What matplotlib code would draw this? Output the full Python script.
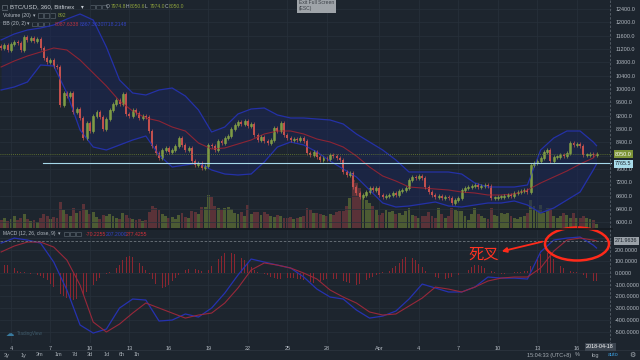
import numpy as np
import pandas as pd
import matplotlib
matplotlib.use("Agg")
import matplotlib.pyplot as plt
import matplotlib.dates as mdates
from matplotlib.patches import Ellipse, Rectangle, FancyArrowPatch

plt.rcParams['font.family'] = ['Liberation Sans', 'DejaVu Sans']
NARROW = ['Liberation Sans Narrow', 'Liberation Sans', 'DejaVu Sans']

# BTC/USD Bitfinex, 6h candles from 2018-03-03 06:00
closes = [
    11230, 11320, 11170, 11350, 11410, 11380, 11170, 11560, 11470, 11530,
    11440, 11500, 11230, 10930, 10810, 10870, 10690, 10660, 9520, 9880,
    9790, 9880, 9310, 9400, 9130, 8530, 8980, 8740, 9190, 9310,
    9160, 8800, 9100, 9370, 9550, 9670, 9550, 9850, 9250, 9190,
    9370, 9280, 9130, 9190, 9160, 8740, 8290, 8080, 7930, 8170,
    8230, 8110, 8170, 8290, 8530, 8320, 8170, 8230, 7840, 7720,
    7780, 7630, 7690, 8320, 8290, 8170, 8440, 8380, 8530, 8590,
    8800, 8920, 9010, 8950, 9040, 8890, 8950, 8620, 8470, 8560,
    8440, 8380, 8470, 8830, 8740, 8980, 8620, 8530, 8470, 8500,
    8470, 8530, 8440, 8080, 8020, 8110, 7960, 7870, 7930, 7900,
    8020, 7990, 7930, 7870, 7510, 7420, 7480, 7060, 6880, 6760,
    6820, 6910, 7030, 6970, 7030, 6820, 6760, 6790, 6820, 6880,
    6820, 6940, 6970, 7030, 7270, 7360, 7330, 7390, 7330, 7060,
    6910, 6820, 6760, 6790, 6730, 6760, 6730, 6580, 6670, 6730,
    6970, 7030, 7060, 7090, 7120, 7060, 7090, 7120, 7090, 6730,
    6730, 6760, 6760, 6790, 6820, 6790, 6880, 6910, 6940, 6970,
    6910, 7720, 7780, 7840, 7930, 8110, 8170, 7840, 7960, 7960,
    8020, 7990, 8080, 8380, 8320, 8350, 8290, 8020, 8020, 8050,
    8020, 8050,
]
first_open = 11300
wick = 60

volumes = [
    1600, 2000, 1400, 1800, 2400, 1600, 2000, 2800, 1800, 1400, 1600, 1200,
    2000, 2800, 2400, 1800, 2200, 2000, 5200,
    3600, 2800, 2400, 4000, 3000, 3400, 4800,
    3600, 2800, 3200, 2200, 1800, 2600, 2400,
    2800, 2400, 2000, 1800, 3000, 2600, 2000, 1800, 1600, 1800, 1400, 1600,
    3200, 4400, 4000, 3600,
    2800, 2400, 2000, 2200, 1800, 2600, 3000, 2200, 2000,
    3400, 3200, 2800, 4200, 4200, 6600,
    6200, 4400, 4000, 3600, 4000, 4200,
    3800, 3000, 2800, 3200, 2400, 4600, 2800, 3200, 3200, 2600,
    3200, 2800, 2400, 2200, 2600, 2400, 2000, 2000, 2200, 1800, 2000, 2200, 2400,
    4000, 3600, 3000, 3000, 2800, 2600, 2400, 2800, 2600, 3200, 3400,
    3400, 4400, 6000, 9600, 9000, 8000, 6000,
    5600, 5000, 4400, 3600,
    2600, 3000, 3600, 3200, 3400, 2800, 3000, 2600, 3400, 4000,
    2600, 2400, 2000, 2400, 2400, 3200, 2400, 2000, 4000, 2800, 2000, 2400, 4000, 3600, 3400,
    3400, 2400, 1600, 2800, 4000, 2800, 2400, 2000, 1800,
    4000, 2600, 2400, 3000, 2800, 3000, 2400, 2000, 1800, 2200, 2400, 3000,
    5600, 4400, 3600, 4600, 3000, 4000,
    4000, 2400, 2000, 2400, 3000, 2600, 2000, 3000, 2000, 2000, 2400, 2000, 1800, 1600, 892,
]

macd_hist = [
    55, 65, 70, 60, 45, 20, 10, 5, 0, -5, -10, -15, -25, -40,
    -60, -90, -120, -150, -180, -200, -215, -225, -230, -225, -210, -190, -160, -130, -100, -70, -40,
    -20, -5, 5, 15,
    40, 70, 110, 140, 150, 140, 120, 90, 60, 30,
    -10, -50, -90, -120, -130, -120, -100, -70, -40, -15,
    10, 25, 35, 40, 35, 25, 15, 10,
    30, 60, 90, 120, 150, 170, 180, 175, 165, 150, 130, 110, 80, 50,
    25, 10, 0, -10, -20,
    -30, -40, -50, -55, -50, -45, -40, -45, -50, -55, -60,
    -65, -75, -85, -80, -70, -60, -55, -50,
    -50, -55, -60, -65, -75, -85, -95, -100, -90, -80, -60, -45, -30,
    -15, -5, 5, 10, 20, 40,
    60, 90, 120, 140, 140, 130, 110, 80, 50, 20,
    0, -15, -30, -45,
    -55, -50, -45, -35, -25, -15, 0, 10,
    30, 50, 65, 70, 60, 45, 30, 15,
    5, 0, -5, -5, 0, 5, 5, 10, 10, 15, 20,
    60, 100, 140, 165, 175, 170, 150, 120, 90, 60,
    40, 25, 15, 10, 5, 0,
    -20, -40, -55, -65, -70,
]

# indicator lines, read once a day (every 4th candle, plus the last one)
bb_upper = [
    11470, 11650, 11770, 11830, 11920, 12100, 12250, 12070, 11260, 10270,
    9880, 9820, 9970, 10030, 9790, 9370, 8710, 8860, 9250, 9400,
    9430, 9220, 9130, 9130, 9100, 9070, 8950, 8650, 8410, 8170,
    7870, 7510, 7510, 7510, 7510, 7450, 7180, 7060, 7060, 7060,
    7120, 8170, 8530, 8740, 8740, 8410, 8300,
]
bb_mid = [
    10660, 10840, 10990, 11110, 11230, 11170, 10870, 10480, 10090, 9640,
    9340, 9130, 9040, 8860, 8740, 8380, 8200, 8230, 8350, 8470,
    8650, 8740, 8740, 8650, 8500, 8410, 8260, 7990, 7660, 7390,
    7240, 7060, 7030, 7000, 6970, 6910, 6880, 6820, 6820, 6850,
    6970, 7180, 7360, 7540, 7750, 7930, 8050,
]
bb_lower = [
    9970, 10060, 10210, 10720, 10690, 9880, 8770, 8260, 8170, 8320,
    8470, 8590, 8020, 7660, 7720, 7780, 7570, 7450, 7420, 7450,
    7810, 8260, 8410, 8320, 8110, 7840, 7600, 7360, 6970, 6580,
    6460, 6490, 6550, 6610, 6490, 6460, 6520, 6580, 6580, 6640,
    6520, 6280, 6430, 6670, 6910, 7570, 7750,
]
macd_line = [
    256, 299, 282, 256, 94, -145, -444, -513, -479, -299,
    -222, -231, -410, -402, -350, -376, -299, -171, -17, 120,
    94, 68, 43, -34, -137, -205, -222, -316, -385, -368,
    -325, -222, -94, -128, -162, -162, -120, -34, -43, -43,
    -51, 180, 282, 299, 308, 239, 214,
]
macd_signal = [
    180, 231, 265, 265, 222, 111, -103, -419, -504, -436,
    -342, -256, -299, -342, -385, -359, -342, -256, -128, 26,
    86, 68, 43, 0, -51, -145, -205, -256, -333, -359,
    -350, -282, -214, -120, -137, -162, -120, -68, -43, -34,
    -34, 43, 188, 282, 299, 282, 274,
]

price_ticks = list(range(6000, 12401, 400))
macd_ticks = list(range(-500, 301, 100))
date_ticks = ["2018-03-04", "2018-03-07", "2018-03-10", "2018-03-13", "2018-03-16",
              "2018-03-19", "2018-03-22", "2018-03-25", "2018-03-28", "2018-04-01",
              "2018-04-04", "2018-04-07", "2018-04-10", "2018-04-13", "2018-04-16"]
date_labels = ["4", "7", "10", "13", "16", "19", "22", "25", "28", "Apr",
               "4", "7", "10", "13", "16"]
hline_price = 7765.5
last_price = 8050.0
last_signal = 271.9636

BG = "#1d252e"
GRID = "#28313b"
TXT = "#b3bac2"
UP = "#63803a"
UP_EDGE = "#8aa74a"
DOWN = "#c2504e"

times = pd.date_range("2018-03-03 06:00", periods=len(closes), freq="6h")
t = mdates.date2num(times)
opens = [first_open] + closes[:-1]
line_idx = list(range(0, len(closes) - 1, 4)) + [len(closes) - 1]
tl = t[line_idx]


def fx(x):
    return x / 640


def fy(y):
    return 1 - y / 360


fig = plt.figure(figsize=(6.4, 3.6), dpi=100)
fig.patch.set_facecolor(BG)

ax = fig.add_axes([0, fy(228), 612 / 640, 228 / 360])
axv = ax.twinx()
axm = fig.add_axes([0, fy(343), 612 / 640, 113 / 360])
ax.set_zorder(axv.get_zorder() + 1)
ax.patch.set_visible(False)
axv.patch.set_facecolor(BG)
axm.set_facecolor(BG)

x_left = t[0] - 0.334 * 0.25
x_right = t[0] + 185.7 * 0.25
tick_pos = mdates.date2num(pd.to_datetime(date_ticks))

# volume
up = np.array(closes) >= np.array(opens)
axv.bar(t, volumes, width=0.22, color=np.where(up, "#4c5b33", "#5a3238"), linewidth=0)
axv.set_ylim(0, 45600)
axv.set_yticks([])

# bollinger bands
ax.fill_between(tl, bb_lower, bb_upper, color="#1b2656", alpha=0.55, linewidth=0)
ax.plot(tl, bb_upper, color="#2431a8", lw=0.9)
ax.plot(tl, bb_lower, color="#2431a8", lw=0.9)
ax.plot(tl, bb_mid, color="#8c2434", lw=0.8)

# candles
for ti, o, c in zip(t, opens, closes):
    hi = max(o, c) + wick
    lo = min(o, c) - wick
    if c >= o:
        ax.vlines(ti, lo, hi, color=UP_EDGE, lw=0.5)
        ax.bar(ti, max(c - o, 20), bottom=o, width=0.15, color=UP,
               edgecolor=UP_EDGE, linewidth=0.4)
    else:
        ax.vlines(ti, lo, hi, color=DOWN, lw=0.5)
        ax.bar(ti, max(o - c, 20), bottom=c, width=0.15, color=DOWN, linewidth=0)

ax.axhline(last_price, color="#6d8230", lw=0.6, ls=(0, (1, 1.5)))
ax.plot([t[12] + 0.2, x_right], [hline_price, hline_price], color="#a6d9ea", lw=0.8)

ax.set_xlim(x_left, x_right)
axm.set_xlim(x_left, x_right)
ax.set_ylim(5830, 12670)
ax.yaxis.tick_right()
ax.set_yticks(price_ticks)
# the 8000 label sits under the last-price box
ax.set_yticklabels(["" if abs(v - last_price) < 200 else f"{v:.1f}" for v in price_ticks],
                   family=NARROW)
ax.set_xticks(tick_pos)
ax.set_xticklabels([])
ax.tick_params(length=0, labelsize=3.9, colors=TXT, pad=2.4)
ax.grid(True, color=GRID, lw=0.5)
ax.set_axisbelow(True)

# MACD
axm.bar(t, macd_hist, width=0.06, color="#8a2630", linewidth=0)
axm.plot(tl, macd_line, color="#2632b0", lw=0.9)
axm.plot(tl, macd_signal, color="#98283a", lw=0.8)
axm.axhline(last_signal, color="#6f777f", lw=0.6, ls=(0, (3, 2)))
axm.set_ylim(-598, 368)
axm.yaxis.tick_right()
axm.set_yticks(macd_ticks)
axm.set_yticklabels(["" if abs(v - last_signal) < 50 else f"{v:.4f}" for v in macd_ticks],
                    family=NARROW)
axm.set_xticks(tick_pos)
axm.set_xticklabels(date_labels)
axm.tick_params(length=0, labelsize=3.9, colors=TXT)
axm.tick_params(axis="x", pad=2.0, labelsize=4.0)
axm.tick_params(axis="y", pad=2.0)
axm.grid(True, color=GRID, lw=0.5)
axm.set_axisbelow(True)

for a in (ax, axv, axm):
    for s in a.spines.values():
        s.set_visible(False)

# panel separator, crosshair, toolbar line
fig.add_artist(plt.Line2D([0, fx(612)], [fy(229), fy(229)], color="#141a20", lw=1.2))
fig.add_artist(plt.Line2D([fx(610), fx(610)], [fy(0), fy(343)], color="#59626c",
                          lw=0.6, ls=(0, (3, 2))))
fig.add_artist(plt.Line2D([0, 1], [fy(350), fy(350)], color="#2c343e", lw=0.6))


# header texts
def txt(x, y, s, color=TXT, size=3.8, family=None, **kw):
    fig.text(fx(x), fy(y), s, color=color, fontsize=size, va="center", ha="left",
             family=family or ['Liberation Sans', 'DejaVu Sans'], **kw)


def icons(x0, y, n=3):
    for k in range(n):
        fig.add_artist(Rectangle((fx(x0 + k * 6), fy(y + 2.3)), 4.6 / 640, 4.6 / 360,
                                 transform=fig.transFigure, fill=False,
                                 edgecolor="#56606a", lw=0.5))


OLIVE = "#8ea23c"
fig.add_artist(Rectangle((fx(2), fy(9.5)), 5 / 640, 5 / 360, transform=fig.transFigure,
                         fill=False, edgecolor="#6a737c", lw=0.5))
txt(10, 7, "BTC/USD, 360, Bitfinex", color="#c9cfd5", size=4.4)
txt(81, 7, "\u25be", color="#c9cfd5", size=4.0, family=['DejaVu Sans'])
icons(90, 7)
for x, s in [(106, "O"), (125.5, "H"), (145, "L"), (164.5, "C")]:
    txt(x, 7, s, size=3.6, family=NARROW)
for x, s in [(110.3, "7974.8"), (129.9, "8050.6"), (149.4, "7974.0"), (169, "8050.0")]:
    txt(x, 7, s, color=OLIVE, size=3.6, family=NARROW)

txt(3, 15.5, "Volume (20)", size=3.7)
txt(32.5, 15.5, "\u25be", size=3.5, family=['DejaVu Sans'])
icons(38, 15.5)
txt(58, 15.5, "892", color=OLIVE, size=3.7, family=NARROW)

txt(3, 24, "BB (20, 2)", size=3.7)
txt(26.5, 24, "\u25be", size=3.5, family=['DejaVu Sans'])
icons(32, 24)
txt(55, 24, "8087.6338", color="#b8333f", size=3.7, family=NARROW)
txt(80, 24, "8367.3630", color="#3343c2", size=3.7, family=NARROW)
txt(103, 24, "7718.2148", color="#3343c2", size=3.7, family=NARROW)

txt(3, 234, "MACD (12, 26, close, 9)", size=3.5)
txt(58, 234, "\u25be", size=3.5, family=['DejaVu Sans'])
icons(64, 234)
txt(86, 234, "-70.2255", color="#d0303a", size=3.7, family=NARROW)
txt(106, 234, "207.2000", color="#3343c2", size=3.7, family=NARROW)
txt(126, 234, "277.4255", color="#d0303a", size=3.7, family=NARROW)

# exit full screen tooltip
fig.text(fx(299), fy(5.5), "Exit Full Screen\n(ESC)", fontsize=3.6, color="#3b4047",
         va="center", ha="left", linespacing=1.2,
         bbox=dict(boxstyle="square,pad=0.35", fc="#9fa4a9", ec="none"))

# right axis value boxes
fig.text(fx(615), fy(154), "8050.0", fontsize=3.9, color="white", va="center", ha="left",
         family=NARROW, bbox=dict(boxstyle="square,pad=0.25", fc="#7d9437", ec="none"))
fig.text(fx(615), fy(164), "7765.5", fontsize=3.9, color="#1d252e", va="center", ha="left",
         family=NARROW, bbox=dict(boxstyle="square,pad=0.25", fc="#a9dcea", ec="none"))
fig.text(fx(615), fy(241), "271.9636", fontsize=3.9, color="#1d252e", va="center", ha="left",
         family=NARROW, bbox=dict(boxstyle="square,pad=0.25", fc="#9aa1a8", ec="none"))
fig.text(fx(600), fy(347), "2018-04-18", fontsize=3.9, color="white", va="center", ha="center",
         family=NARROW, bbox=dict(boxstyle="square,pad=0.3", fc="#3c4550", ec="none"))

# watermark
txt(6, 334, "\u2601", color="#3a7ca0", size=6, family=['DejaVu Sans'])
txt(17, 334, "TradingView", color="#3f5b6b", size=3.3)

# bottom toolbar
for x, s in zip([7, 24, 40, 58, 75, 90, 107, 122, 137],
                ["3y", "1y", "3m", "1m", "7d", "3d", "1d", "6h", "1h"]):
    fig.text(fx(x), fy(355), s, fontsize=4.0, color="#a6adb4", ha="center", va="center")
txt(527, 355, "15:04:33 (UTC+8)", color="#a6adb4", size=4.0)
fig.text(fx(577), fy(355), "%", fontsize=4.0, color="#a6adb4", ha="center", va="center")
fig.text(fx(595), fy(355), "log", fontsize=4.0, color="#a6adb4", ha="center", va="center")
fig.text(fx(613), fy(355), "auto", fontsize=4.0, color="#3a9ad9", ha="center", va="center")
fig.text(fx(632), fy(355), "\u2699", fontsize=5, color="#a6adb4", ha="center", va="center",
         family=['DejaVu Sans'])

# annotation: death cross
fig.add_artist(Ellipse((fx(577), fy(244)), 64 / 640, 33 / 360, transform=fig.transFigure,
                       fill=False, edgecolor="#ff2a1a", lw=1.8))
fig.add_artist(FancyArrowPatch((fx(545), fy(241)), (fx(499), fy(252)),
                               transform=fig.transFigure, arrowstyle="-|>",
                               mutation_scale=7, color="#ff2a1a", lw=1.3))
fig.text(fx(484), fy(254), "死叉", fontsize=11, color="#ff3322", ha="center", va="center",
         family=["Noto Sans CJK SC", "DejaVu Sans"])

fig.savefig("out.png", dpi=100, facecolor=BG)
